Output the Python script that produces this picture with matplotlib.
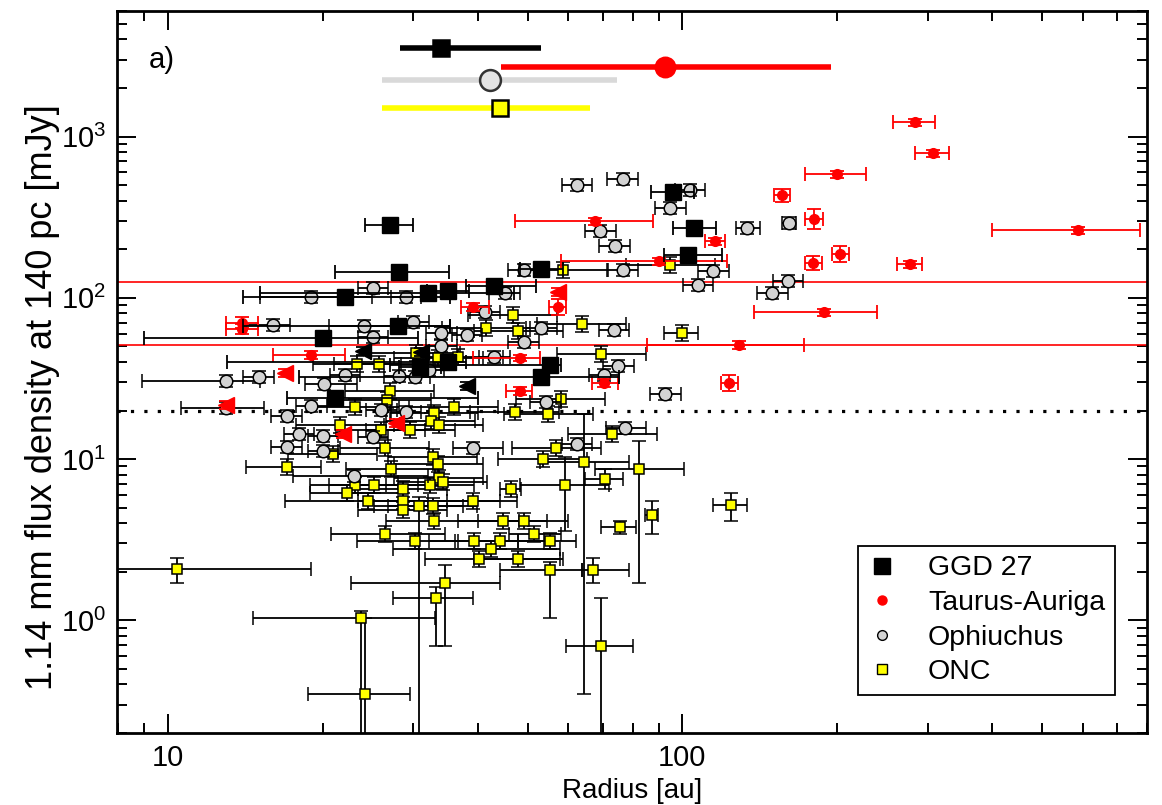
import matplotlib.pyplot as plt
import numpy as np
from matplotlib.lines import Line2D
from matplotlib.ticker import LogLocator, FuncFormatter, NullFormatter

plt.rcParams['font.family'] = ['Liberation Sans', 'DejaVu Sans']

# median radius / flux of each region (top of the panel), with range
med_r = [34.0, 92.7, 42.2, 44.2]
med_f = [3516, 2680, 2230, 1493]
med_lo = [28.2, 44.3, 26.1, 26.1]
med_hi = [53.0, 194.5, 74.5, 66.2]

# GGD 27 discs: radius [au], flux at 140 pc [mJy]
ggd_r = [27.0, 95.7, 105.5, 102.7, 28.1, 22.1, 32.0, 35.0, 43.1, 53.2,
         20.0, 28.0, 35.0, 55.2, 53.2, 21.1, 30.9]
ggd_f = [282, 451, 270, 184, 144, 101, 107, 110, 118, 151,
         56.3, 66.8, 40.0, 38.3, 32.3, 23.9, 37.2]
ggd_rfix = {0: (24.1, 30.0), 3: (91.9, 119.6), 4: (21.1, 35.1), 5: (14.0, 35.3),
            6: (15.1, 47.0), 8: (38.0, 52.0), 10: (9.0, 30.6), 11: (14.0, 35.3),
            12: (13.0, 38.0), 13: (27.0, 58.0), 14: (18.0, 75.4), 15: (17.0, 40.0)}
# GGD 27 radius upper limits
ggd_lim_r = [23.9, 31.1, 38.1]
ggd_lim_f = [46.8, 46.1, 28.4]

# Taurus-Auriga
tau_r = [283.5, 307, 200, 156.4, 67.5, 180.4, 587.5, 115.9, 202.7, 179.7,
         277, 90.2, 57.2, 188.7, 129.0, 48.3, 70.3, 123.4, 48.3, 39.1,
         13.9, 13.9, 18.96]
tau_f = [1224, 787, 583, 432, 298.5, 307, 262.5, 224.4, 186.4, 164,
         161.7, 168.8, 87.6, 81.5, 50.9, 42.3, 29.6, 29.6, 26.4, 87.6,
         70, 64, 44.2]
tau_rfix = {0: (256.9, 310), 1: (283.5, 330), 2: (173.3, 227.8), 3: (151, 162),
            4: (47.2, 87.8), 6: (400, 774), 7: (110.8, 121.2), 10: (261.5, 292.4),
            11: (58.2, 122.3), 13: (138, 239), 14: (85.5, 172.6), 15: (39.1, 52.8),
            16: (66.6, 74.8), 18: (45.3, 51.1), 19: (37.2, 42.0), 20: (12.96, 14.96),
            21: (12.96, 14.96), 22: (16.0, 22.1)}
tau_ffrac = [0.05, 0.05, 0.05, 0.10, 0.05, 0.15, 0.05, 0.05, 0.12, 0.10,
             0.05, 0.05, 0.12, 0.05, 0.06, 0.05, 0.06, 0.12, 0.06, 0.06,
             0.08, 0.08, 0.06]
# two Taurus sources with unconstrained radii
tau_wide_r = [57.2, 129.0]
tau_wide_f = [125, 50.9]
tau_wide_lo = [1.0, 1.0]
tau_wide_hi = [1e4, 1e4]
# Taurus radius upper limits
tau_lim_r = [57.2, 16.9, 12.96, 27.7, 21.9]
tau_lim_f = [108.5, 34.2, 21.7, 16.8, 14.3]

# Ophiuchus
oph_r = [62.3, 76.5, 103.6, 94.8, 69.3, 73.8, 133.8, 161.4, 76.5, 49.1,
         114.9, 107.4, 160.6, 149.6, 45.1, 53.2, 73.5, 49.1, 75.1, 70.3,
         54.2, 92.7, 77.5, 62.3, 25.0, 19.0, 29.0, 16.0, 24.0, 30.0,
         25.0, 34.0, 38.1, 41.3, 34.0, 43.1, 15.0, 12.96, 20.1, 22.1,
         28.1, 30.2, 32.1, 12.96, 19.0, 17.0, 26.0, 29.0, 18.0, 20.0,
         25.0, 17.0, 20.0, 39.1, 23.0]
oph_f = [499, 543, 464, 359, 259, 209, 270, 290, 148.5, 148.5,
         146.3, 119.8, 126.9, 107, 107, 64.9, 63.1, 53.2, 37.8, 33.2,
         22.6, 25.3, 15.6, 12.4, 114.8, 101, 101, 67.8, 66.8, 70.7,
         57.1, 60.4, 58.7, 81.5, 50.2, 42.9, 32.3, 30.5, 29.2, 33.2,
         32.7, 32.3, 35.7, 20.7, 21.4, 18.5, 20.2, 19.6, 14.3, 13.9,
         13.7, 11.9, 11.2, 11.7, 7.87]
oph_rfix = {6: (127.3, 141.8), 7: (156.4, 166.5), 22: (71.0, 85.0), 25: (15.1, 24.9),
            27: (14.0, 17.3), 28: (20.6, 35.3), 37: (8.9, 15.1), 38: (18.5, 23.3),
            43: (10.6, 15.4), 53: (35.8, 44.7), 54: (17.5, 32.0)}

# ONC
onc_r = [94.8, 58.7, 46.8, 41.5, 48.0, 63.7, 99.6, 30.3, 33.5, 36.7,
         23.3, 25.7, 69.6, 27.0, 26.6, 58.0, 23.1, 35.9, 47.2, 54.9,
         32.9, 32.4, 33.6, 21.6, 29.6, 25.9, 73.1, 26.4, 20.9, 32.7,
         56.9, 53.5, 64.5, 33.5, 17.0, 27.1, 82.5, 33.6, 34.2, 70.6,
         23.1, 25.1, 32.3, 28.6, 46.4, 59.0, 22.3, 24.5, 28.6, 39.1,
         28.6, 30.7, 32.7, 124.5, 87.1, 32.9, 44.7, 49.1, 75.5, 26.4,
         51.4, 30.2, 39.3, 44.1, 55.4, 42.4, 40.2, 48.0, 55.2, 66.9,
         10.4, 34.5, 33.2, 23.7, 69.6, 24.1]
onc_f = [159, 148, 78.1, 64.9, 62.2, 68.7, 60.4, 45.5, 42.3, 42.9,
         38.9, 38.9, 44.8, 26.4, 23.3, 23.6, 21.0, 21.0, 19.6, 19.1,
         19.3, 17.2, 16.3, 16.3, 15.2, 15.2, 14.3, 11.7, 10.8, 10.3,
         11.7, 10.0, 9.61, 9.34, 8.95, 8.70, 8.70, 7.65, 7.22, 7.54,
         6.92, 6.92, 6.92, 6.54, 6.54, 6.92, 6.18, 5.51, 5.51, 5.51,
         4.85, 5.13, 5.13, 5.21, 4.51, 4.14, 4.14, 4.14, 3.80, 3.44,
         3.44, 3.11, 3.11, 3.11, 3.11, 2.78, 2.41, 2.41, 2.06, 2.06,
         2.09, 1.71, 1.38, 1.04, 0.69, 0.35]
onc_rfix = {6: (92.0, 107.0), 34: (14.2, 19.8), 39: (64.7, 76.5), 40: (18.9, 32.3),
            44: (44.1, 48.5), 46: (18.9, 28.6), 47: (16.9, 44.1), 53: (114.9, 133.7),
            54: (84.5, 89.6), 55: (26.5, 48.2), 57: (40.0, 59.8), 58: (69.6, 81.3),
            59: (20.7, 34.5), 60: (46.0, 58.0), 61: (23.3, 36.7), 64: (48.0, 62.0),
            65: (27.4, 57.7), 66: (31.6, 57.7), 68: (44.1, 63.9), 69: (63.9, 78.9),
            70: (7.0, 19.0), 71: (22.7, 44.1), 72: (27.4, 39.1), 73: (14.6, 33.0),
            74: (59.5, 80.0), 75: (18.7, 29.6)}
onc_ffix = {32: (0.35, 19.0), 36: (1.71, 13.0), 39: (6.54, 8.70), 45: (3.6, 10.3),
            51: (0.1, 5.8), 53: (4.14, 6.18), 54: (3.44, 5.51), 58: (3.44, 4.14),
            68: (1.04, 2.3), 69: (1.71, 2.44), 70: (1.71, 2.44), 71: (0.69, 2.2),
            72: (0.69, 1.6), 73: (0.1, 1.15), 74: (0.1, 1.38), 75: (0.1, 1.04)}


def bars(vals, frac, fixed=None):
    """asymmetric error array; default +-frac, with fixed (lo, hi) overrides"""
    v = np.asarray(vals, float)
    f = np.broadcast_to(np.asarray(frac, float), v.shape)
    lo = v / (1 + f)
    hi = v * (1 + f)
    for i, (a, b) in (fixed or {}).items():
        lo[i], hi[i] = a, b
    return np.vstack([v - lo, hi - v])


fig = plt.figure(figsize=(11.62, 8.05), dpi=100)
ax = fig.add_axes([0.1007, 0.0894, 0.8864, 0.8969])
ax.set_xscale('log')
ax.set_yscale('log')

eb = dict(ls='none', elinewidth=1.3, capsize=5, capthick=1.3)

# reference lines
ax.axhline(20, color='k', ls=(0, (1, 3.2)), lw=2.3, zorder=1)
ax.errorbar(tau_wide_r, tau_wide_f, xerr=[np.subtract(tau_wide_r, tau_wide_lo),
                                            np.subtract(tau_wide_hi, tau_wide_r)],
            fmt='none', ecolor='red', elinewidth=1.2, capsize=0, zorder=2)

# ONC
ax.errorbar(onc_r, onc_f, xerr=bars(onc_r, 0.22, onc_rfix), yerr=bars(onc_f, 0.12, onc_ffix),
            fmt='s', ms=7.5, mfc='#ffff00', mec='k', mew=1.1, ecolor='k', zorder=3, **eb)
# Ophiuchus
ax.errorbar(oph_r, oph_f, xerr=bars(oph_r, 0.07, oph_rfix), yerr=bars(oph_f, 0.09),
            fmt='o', ms=9, mfc='#d3d3d3', mec='k', mew=1.1, ecolor='k', zorder=4, **eb)
# Taurus
ax.errorbar(tau_r, tau_f, xerr=bars(tau_r, 0.04, tau_rfix), yerr=bars(tau_f, tau_ffrac),
            fmt='o', ms=7, mfc='red', mec='red', ecolor='red', zorder=5, **eb)
ax.errorbar(tau_lim_r, tau_lim_f, yerr=bars(tau_lim_f, 0.06),
            fmt='<', ms=11, mfc='red', mec='red', ecolor='red', zorder=5, **eb)
# GGD 27
ax.errorbar(ggd_r, ggd_f, xerr=bars(ggd_r, 0.10, ggd_rfix), yerr=bars(ggd_f, 0.08),
            fmt='s', ms=11, mfc='k', mec='k', ecolor='k', zorder=6, **eb)
ax.errorbar(ggd_lim_r, ggd_lim_f, yerr=bars(ggd_lim_f, 0.06),
            fmt='<', ms=12, mfc='k', mec='k', ecolor='k', zorder=6, **eb)

# medians at the top
med_style = [('k', 's', 'k', 'k', 12), ('red', 'o', 'red', 'red', 14),
             ('#d9d9d9', 'o', '#e4e4e4', '#333333', 15), ('#ffff00', 's', '#ffff00', 'k', 12)]
for r, f, lo, hi, (lc, m, fc, ec, ms) in zip(med_r, med_f, med_lo, med_hi, med_style):
    ax.errorbar([r], [f], xerr=[[r - lo], [hi - r]], fmt=m, ms=ms, mfc=fc, mec=ec, mew=1.8,
                ecolor=lc, elinewidth=4, capsize=0, zorder=7)

ax.text(0.031, 0.932, 'a)', transform=ax.transAxes, fontsize=21, va='center')

ax.set_xlim(7.96, 800)
ax.set_ylim(0.2, 6000)
ax.set_xlabel('Radius [au]', fontsize=20, labelpad=4)
ax.set_ylabel('1.14 mm flux density at 140 pc [mJy]', fontsize=26)
ax.yaxis.set_label_coords(-0.055, 0.466)

ax.xaxis.set_major_formatter(FuncFormatter(lambda v, p: '%g' % v))
ax.xaxis.set_minor_formatter(NullFormatter())
ax.yaxis.set_major_locator(LogLocator(base=10, numticks=10))
ax.yaxis.set_minor_locator(LogLocator(base=10, subs=np.arange(2, 10), numticks=10))
ax.yaxis.set_minor_formatter(NullFormatter())
ax.tick_params(which='both', direction='in', top=True, right=True, labelsize=21, width=1.4)
ax.tick_params(which='major', length=14, pad=8)
ax.tick_params(which='minor', length=7)
for s in ax.spines.values():
    s.set_linewidth(2)

handles = [Line2D([], [], ls='none', marker='s', ms=12, mfc='k', mec='k'),
           Line2D([], [], ls='none', marker='o', ms=6.5, mfc='red', mec='red'),
           Line2D([], [], ls='none', marker='o', ms=7, mfc='#d3d3d3', mec='k', mew=1),
           Line2D([], [], ls='none', marker='s', ms=6.5, mfc='#ffff00', mec='k', mew=1)]
leg = ax.legend(handles, ['GGD 27', 'Taurus-Auriga', 'Ophiuchus', 'ONC'], loc='lower right',
                bbox_to_anchor=(0.969, 0.0526), borderaxespad=0, fontsize=20.5,
                fancybox=False, framealpha=1, edgecolor='k', labelspacing=0.3,
                handlelength=1.0, handletextpad=1.1, borderpad=0.35)
leg.get_frame().set_linewidth(1.3)

fig.savefig('out.png', dpi=100)
